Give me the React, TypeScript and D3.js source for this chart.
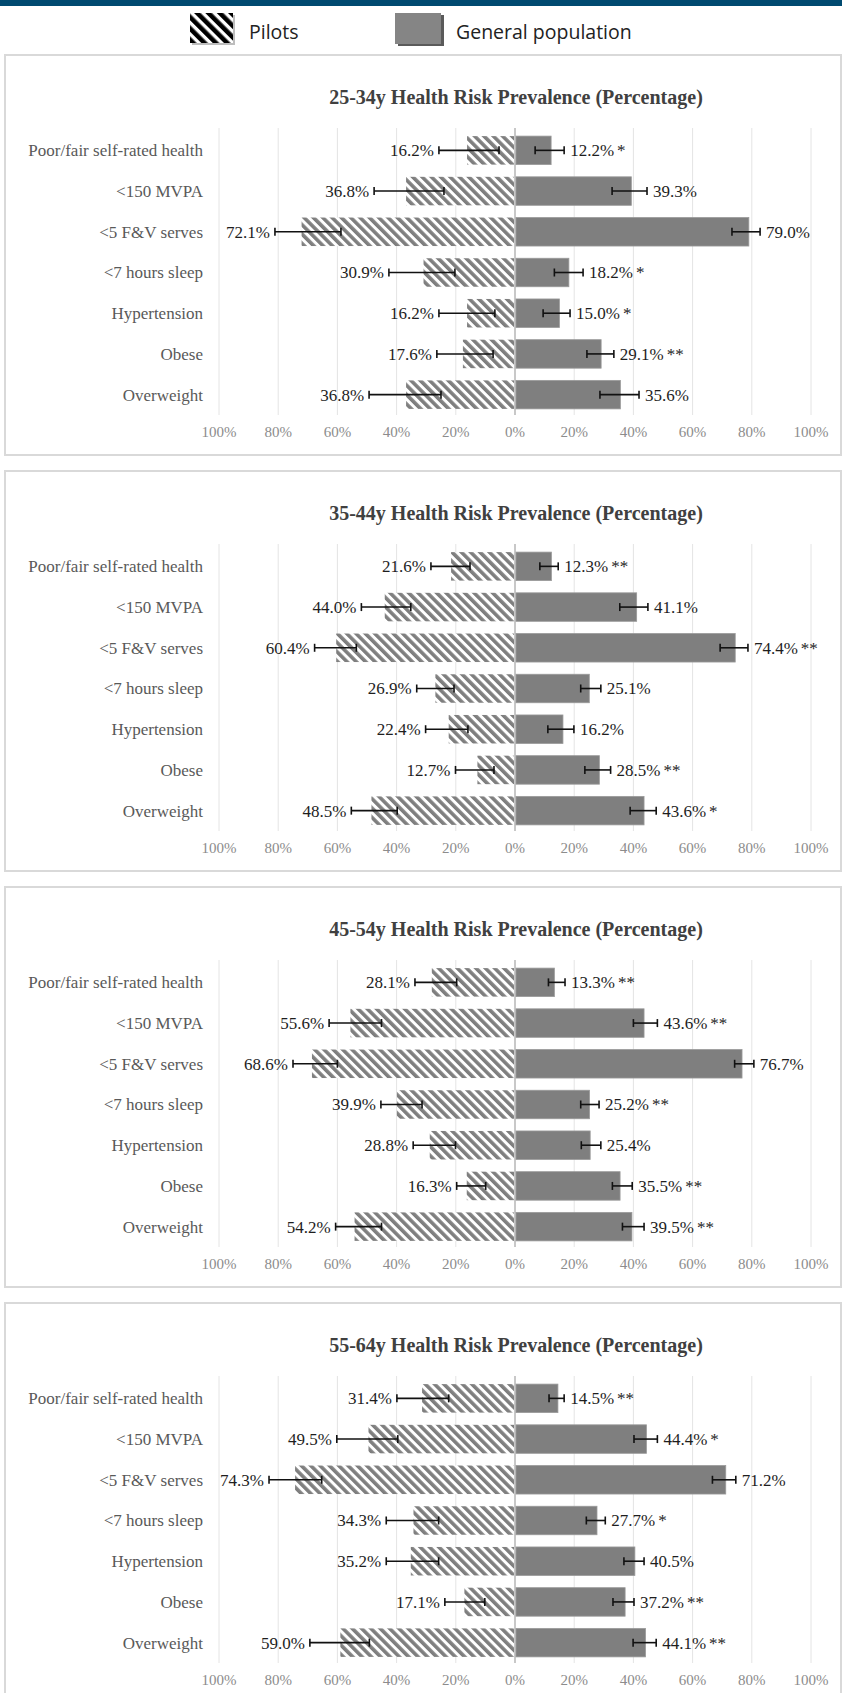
import * as d3 from "d3";

const width = 842;
const height = 1693;

const categories = [
  "Poor/fair self-rated health",
  "<150 MVPA",
  "<5 F&V serves",
  "<7 hours sleep",
  "Hypertension",
  "Obese",
  "Overweight",
];

const panelTitles = [
  "25-34y Health Risk Prevalence (Percentage)",
  "35-44y Health Risk Prevalence (Percentage)",
  "45-54y Health Risk Prevalence (Percentage)",
  "55-64y Health Risk Prevalence (Percentage)",
];

const tickValues = [-100, -80, -60, -40, -20, 0, 20, 40, 60, 80, 100];

// 25-34y
const pilots2534 = [16.2, 36.8, 72.1, 30.9, 16.2, 17.6, 36.8];
const pilotsCi2534 = [[5.4, 25.7], [24.0, 47.6], [58.8, 81.1], [20.3, 42.6], [6.8, 25.7], [7.4, 26.4], [25.0, 49.3]];
const general2534 = [12.2, 39.3, 79.0, 18.2, 15.0, 29.1, 35.6];
const generalCi2534 = [[6.8, 16.6], [32.8, 44.6], [73.3, 82.8], [13.3, 23.0], [9.5, 18.6], [24.3, 33.4], [28.7, 41.9]];
const sig2534 = ["*", "", "", "*", "*", "**", ""];

// 35-44y
const pilots3544 = [21.6, 44.0, 60.4, 26.9, 22.4, 12.7, 48.5];
const pilotsCi3544 = [[15.2, 28.4], [35.2, 51.9], [53.6, 67.7], [20.6, 33.2], [15.9, 30.2], [7.1, 20.1], [39.8, 55.3]];
const general3544 = [12.3, 41.1, 74.4, 25.1, 16.2, 28.5, 43.6];
const generalCi3544 = [[8.4, 14.6], [35.4, 44.9], [69.3, 78.7], [22.2, 29.0], [11.1, 19.9], [23.6, 32.3], [38.9, 47.7]];
const sig3544 = ["**", "", "**", "", "", "**", "*"];

// 45-54y
const pilots4554 = [28.1, 55.6, 68.6, 39.9, 28.8, 16.3, 54.2];
const pilotsCi4554 = [[19.7, 33.8], [45.1, 62.8], [60.0, 75.0], [31.4, 45.3], [20.1, 34.4], [9.9, 19.7], [45.1, 60.6]];
const general4554 = [13.3, 43.6, 76.7, 25.2, 25.4, 35.5, 39.5];
const generalCi4554 = [[11.3, 16.9], [40.0, 48.1], [74.2, 80.7], [22.2, 28.4], [22.4, 29.0], [32.9, 39.6], [36.3, 43.6]];
const sig4554 = ["**", "**", "", "**", "", "**", "**"];

// 55-64y
const pilots5564 = [31.4, 49.5, 74.3, 34.3, 35.2, 17.1, 59.0];
const pilotsCi5564 = [[22.4, 39.9], [39.6, 60.2], [65.3, 83.1], [25.8, 43.5], [25.8, 43.5], [10.2, 23.7], [49.2, 69.3]];
const general5564 = [14.5, 44.4, 71.2, 27.7, 40.5, 37.2, 44.1];
const generalCi5564 = [[11.5, 16.6], [40.2, 48.1], [66.7, 74.6], [24.1, 30.5], [36.8, 43.6], [33.1, 40.2], [39.9, 47.7]];
const sig5564 = ["**", "*", "", "*", "", "**", "**"];

const panels = [
  { title: panelTitles[0], pilots: pilots2534, pilotsCi: pilotsCi2534, general: general2534, generalCi: generalCi2534, sig: sig2534 },
  { title: panelTitles[1], pilots: pilots3544, pilotsCi: pilotsCi3544, general: general3544, generalCi: generalCi3544, sig: sig3544 },
  { title: panelTitles[2], pilots: pilots4554, pilotsCi: pilotsCi4554, general: general4554, generalCi: generalCi4554, sig: sig4554 },
  { title: panelTitles[3], pilots: pilots5564, pilotsCi: pilotsCi5564, general: general5564, generalCi: generalCi5564, sig: sig5564 },
];

const serif = "'Liberation Serif', 'Times New Roman', serif";
const barGray = "#7f7f7f";

const x = d3.scaleLinear().domain([-100, 100]).range([219, 811]);

type Panel = (typeof panels)[number];

function ErrorBar({ x1, x2, y }: { x1: number; x2: number; y: number }) {
  return (
    <g stroke="#111" strokeWidth={1.6}>
      <line x1={x1} x2={x2} y1={y} y2={y} />
      <line x1={x1} x2={x1} y1={y - 4} y2={y + 4} />
      <line x1={x2} x2={x2} y1={y - 4} y2={y + 4} />
    </g>
  );
}

function PanelChart({ panel, top }: { panel: Panel; top: number }) {
  const y = d3
    .scaleBand()
    .domain(categories)
    .range([top + 75, top + 360])
    .paddingInner(0.3)
    .paddingOuter(0.15);
  const bw = y.bandwidth();

  return (
    <g>
      <rect x={5} y={top} width={836} height={400} fill="#fff" stroke="#d9d9d9" strokeWidth={2} />
      <text
        x={x(0) + 1}
        y={top + 42}
        dy="0.35em"
        textAnchor="middle"
        fontFamily={serif}
        fontWeight="bold"
        fontSize={20}
        fill="#404040"
      >
        {panel.title}
      </text>

      {/* gridlines */}
      {tickValues.map((t) => (
        <line
          key={t}
          x1={x(t)}
          x2={x(t)}
          y1={top + 73}
          y2={top + 360}
          stroke={t === 0 ? "#c8c8c8" : "#e4e4e4"}
          strokeWidth={t === 0 ? 2 : 1}
        />
      ))}
      {tickValues.map((t) => (
        <text
          key={"t" + t}
          x={x(t)}
          y={top + 377}
          dy="0.35em"
          textAnchor="middle"
          fontFamily={serif}
          fontSize={15}
          fill="#8c8c8c"
        >
          {Math.abs(t) + "%"}
        </text>
      ))}

      {categories.map((c, i) => {
        const yc = (y(c) as number) + bw / 2;
        const pv = panel.pilots[i];
        const gv = panel.general[i];
        const [plo, phi] = panel.pilotsCi[i];
        const [glo, ghi] = panel.generalCi[i];
        return (
          <g key={c}>
            <text
              x={203}
              y={yc}
              dy="0.35em"
              textAnchor="end"
              fontFamily={serif}
              fontSize={17}
              fill="#595959"
            >
              {c}
            </text>
            <rect
              x={x(-pv)}
              y={y(c)}
              width={x(0) - 1 - x(-pv)}
              height={bw}
              fill="url(#hatch)"
            />
            <rect
              x={x(0) + 1}
              y={y(c)}
              width={x(gv) - x(0) - 1}
              height={bw}
              fill={barGray}
              stroke="#9a9a9a"
              strokeWidth={0.8}
            />
            <ErrorBar x1={x(-phi)} x2={x(-plo)} y={yc} />
            <ErrorBar x1={x(glo)} x2={x(ghi)} y={yc} />
            <text
              x={x(-phi) - 5}
              y={yc}
              dy="0.35em"
              textAnchor="end"
              fontFamily={serif}
              fontSize={17}
              fill="#1e1e1e"
            >
              {pv.toFixed(1) + "%"}
            </text>
            <text
              x={x(ghi) + 6}
              y={yc}
              dy="0.35em"
              fontFamily={serif}
              fontSize={17}
              fill="#1e1e1e"
            >
              {gv.toFixed(1) + "%"}
              {panel.sig[i] ? <tspan dx={3}>{panel.sig[i]}</tspan> : null}
            </text>
          </g>
        );
      })}
    </g>
  );
}

export default function App() {
  return (
    <svg
      width={width}
      height={height}
      viewBox={`0 0 ${width} ${height}`}
      style={{ position: "absolute", left: 0, top: 0, background: "#fff" }}
    >
      <defs>
        <pattern id="hatch" patternUnits="userSpaceOnUse" width={6.6} height={6.6} patternTransform="rotate(-45)">
          <rect width={6.6} height={6.6} fill="#fff" />
          <rect width={3.6} height={6.6} fill={barGray} />
        </pattern>
        <pattern id="legendHatch" patternUnits="userSpaceOnUse" width={8} height={8} patternTransform="rotate(-45)">
          <rect width={8} height={8} fill="#fff" />
          <rect width={4.6} height={8} fill="#000" />
        </pattern>
      </defs>
      <rect width={width} height={height} fill="#fff" />
      <rect width={width} height={6} fill="#004a70" />

      {/* legend */}
      <rect x={192} y={15} width={43} height={30} fill="#bdbdbd" />
      <rect x={190} y={13} width={43} height={30} fill="url(#legendHatch)" />
      <text x={249} y={32} dy="0.35em" fontFamily="'Open Sans', sans-serif" fontSize={19.5} fill="#222">
        Pilots
      </text>
      <rect x={398} y={15} width={46} height={31} fill="#5a5a5a" />
      <rect x={395} y={13} width={46} height={31} fill="#858585" />
      <text x={456} y={32} dy="0.35em" fontFamily="'Open Sans', sans-serif" fontSize={19.5} fill="#222">
        General population
      </text>

      {panels.map((p, i) => (
        <PanelChart key={p.title} panel={p} top={55 + 416 * i} />
      ))}
    </svg>
  );
}
